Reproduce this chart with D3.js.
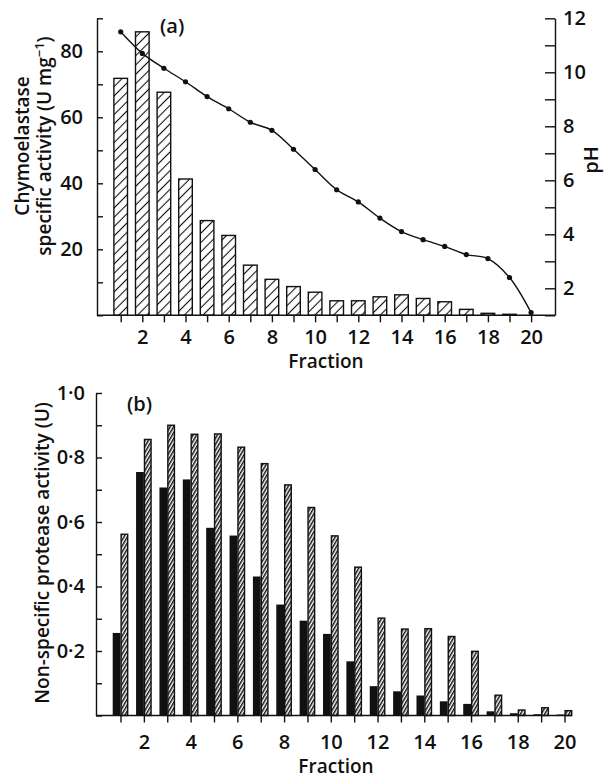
<!DOCTYPE html>
<html>

<head>
    <meta charset="utf-8">
    <title>Chymoelastase fractions</title>
    <script src="https://cdnjs.cloudflare.com/ajax/libs/d3/7.8.5/d3.min.js" type="text/JavaScript"></script>
    <style>
        body { margin: 0; background: #fff; }
        svg { display: block; font-family: "Open Sans", sans-serif; font-weight: 600; }
        text { fill: #111; }
    </style>
</head>

<body>
    <svg width="604" height="779"></svg>
    <script>
        var fractions = [1, 2, 3, 4, 5, 6, 7, 8, 9, 10, 11, 12, 13, 14, 15, 16, 17, 18, 19, 20]
        var fractionLabels = [2, 4, 6, 8, 10, 12, 14, 16, 18, 20]

        // panel (a)
        var chymoActivity = [71.8, 85.9, 67.6, 41.3, 28.7, 24.2, 15.2, 10.9, 8.7, 7.0,
            4.4, 4.4, 5.6, 6.2, 5.1, 4.1, 1.8, 0.6, 0.3, 0]
        var phValues = [11.5, 10.7, 10.15, 9.65, 9.1, 8.65, 8.15, 7.85, 7.15, 6.4,
            5.65, 5.2, 4.6, 4.1, 3.8, 3.55, 3.25, 3.1, 2.4, 1.1]
        var activityTicks = [0, 10, 20, 30, 40, 50, 60, 70, 80, 90]
        var activityLabels = [20, 40, 60, 80]
        var phTicks = [1, 2, 3, 4, 5, 6, 7, 8, 9, 10, 11, 12]
        var phLabels = [2, 4, 6, 8, 10, 12]

        // panel (b)
        var proteaseSolid = [0.256, 0.755, 0.707, 0.732, 0.582, 0.558, 0.431, 0.344, 0.294, 0.253,
            0.168, 0.091, 0.075, 0.062, 0.044, 0.036, 0.013, 0.007, 0.004, 0.003]
        var proteaseHatched = [0.562, 0.856, 0.900, 0.872, 0.873, 0.832, 0.781, 0.715, 0.645, 0.557,
            0.460, 0.302, 0.268, 0.269, 0.245, 0.199, 0.063, 0.017, 0.024, 0.015]
        var proteaseTicks = [0, 0.1, 0.2, 0.3, 0.4, 0.5, 0.6, 0.7, 0.8, 0.9, 1.0]
        var proteaseLabels = ["0.2", "0.4", "0.6", "0.8", "1.0"]

        var ink = "#111"
        var svg = d3.select("svg")
        var defs = svg.append("defs")

        var hatchA = defs.append("pattern")
            .attr("id", "hatchA")
            .attr("patternUnits", "userSpaceOnUse")
            .attr("width", 6.6).attr("height", 6.6)
            .attr("patternTransform", "rotate(45)")
        hatchA.append("rect").attr("width", 6.6).attr("height", 6.6).attr("fill", "#fff")
        hatchA.append("line")
            .attr("x1", 3.3).attr("y1", 0).attr("x2", 3.3).attr("y2", 6.6)
            .attr("stroke", ink).attr("stroke-width", 1.1)

        var hatchB = defs.append("pattern")
            .attr("id", "hatchB")
            .attr("patternUnits", "userSpaceOnUse")
            .attr("width", 3).attr("height", 3)
            .attr("patternTransform", "rotate(30)")
        hatchB.append("rect").attr("width", 3).attr("height", 3).attr("fill", "#fff")
        hatchB.append("rect").attr("width", 1.5).attr("height", 3).attr("fill", ink)

        function styleAxis(g) {
            g.attr("font-size", 20).attr("font-family", "'Open Sans', sans-serif").attr("font-weight", 600)
            g.selectAll("path, line").attr("stroke", ink).attr("stroke-width", 1.4)
            g.selectAll("text").attr("fill", ink)
        }

        // ---------- (a) ----------
        var xA = d3.scaleLinear().domain([1, 20]).range([120.7, 531.1])
        var yA = d3.scaleLinear().domain([0, 90]).range([315.3, 18.3])
        var yPh = d3.scaleLinear().domain([1, 12]).range([315.3, 18.3])

        var gA = svg.append("g")

        gA.selectAll("rect.bar")
            .data(fractions.filter((f, i) => chymoActivity[i] > 0))
            .enter().append("rect")
            .attr("class", "bar")
            .attr("x", f => xA(f) - 6.8)
            .attr("width", 13.6)
            .attr("y", f => yA(chymoActivity[f - 1]))
            .attr("height", f => yA(0) - yA(chymoActivity[f - 1]))
            .attr("fill", "url(#hatchA)")
            .attr("stroke", ink)
            .attr("stroke-width", 1.4)

        gA.append("g")
            .attr("transform", "translate(97,0)")
            .call(d3.axisLeft(yA).tickValues(activityTicks).tickSize(-6).tickSizeOuter(0).tickPadding(14)
                .tickFormat(d => activityLabels.includes(d) ? d : ""))
            .call(styleAxis)

        gA.append("g")
            .attr("transform", "translate(555,0)")
            .call(d3.axisRight(yPh).tickValues(phTicks).tickSize(-10).tickSizeOuter(0).tickPadding(8)
                .tickFormat(d => phLabels.includes(d) ? d : ""))
            .call(styleAxis)

        gA.append("g")
            .attr("transform", `translate(0,${yA(0)})`)
            .call(d3.axisBottom(xA).tickValues(fractions).tickSize(7).tickPadding(8)
                .tickFormat(d => fractionLabels.includes(d) ? d : ""))
            .call(styleAxis)
            .call(g => g.select(".domain").remove())

        gA.append("line")
            .attr("x1", 97).attr("x2", 555)
            .attr("y1", yA(0)).attr("y2", yA(0))
            .attr("stroke", ink).attr("stroke-width", 1.4)

        var phLine = d3.line()
            .x((d, i) => xA(fractions[i]))
            .y(d => yPh(d))
            .curve(d3.curveCatmullRom.alpha(0.5))

        gA.append("path")
            .datum(phValues)
            .attr("d", phLine)
            .attr("fill", "none")
            .attr("stroke", ink)
            .attr("stroke-width", 1.4)

        gA.selectAll("circle")
            .data(phValues)
            .enter().append("circle")
            .attr("cx", (d, i) => xA(fractions[i]))
            .attr("cy", d => yPh(d))
            .attr("r", 2.6)
            .attr("fill", ink)

        gA.append("text").attr("x", 160).attr("y", 33).attr("font-size", 20).text("(a)")

        var titleA = gA.append("text")
            .attr("transform", "translate(0,146) rotate(-90)")
            .attr("text-anchor", "middle")
            .attr("font-size", 19)
        titleA.append("tspan").attr("x", 0).attr("y", 29).text("Chymoelastase")
        var line2 = titleA.append("tspan").attr("x", 0).attr("y", 51)
        line2.append("tspan").text("specific activity (U mg")
        line2.append("tspan").attr("dy", -7).attr("font-size", 13).text("\u22121")
        line2.append("tspan").attr("dy", 7).text(")")

        gA.append("text")
            .attr("transform", "translate(598,160) rotate(-90)")
            .attr("text-anchor", "middle")
            .attr("font-size", 20)
            .text("pH")

        gA.append("text")
            .attr("x", 326).attr("y", 368)
            .attr("text-anchor", "middle")
            .attr("font-size", 19)
            .text("Fraction")

        // ---------- (b) ----------
        var xB = d3.scaleLinear().domain([1, 20]).range([120.5, 564.5])
        var yB = d3.scaleLinear().domain([0, 1]).range([715.5, 393])

        var gB = svg.append("g")

        gB.selectAll("rect.solid")
            .data(fractions)
            .enter().append("rect")
            .attr("class", "solid")
            .attr("x", f => xB(f) - 7.8)
            .attr("width", 7.8)
            .attr("y", f => yB(proteaseSolid[f - 1]))
            .attr("height", f => yB(0) - yB(proteaseSolid[f - 1]))
            .attr("fill", ink)

        gB.selectAll("rect.hatched")
            .data(fractions)
            .enter().append("rect")
            .attr("class", "hatched")
            .attr("x", f => xB(f) + 0.6)
            .attr("width", 6.6)
            .attr("y", f => yB(proteaseHatched[f - 1]))
            .attr("height", f => yB(0) - yB(proteaseHatched[f - 1]))
            .attr("fill", "url(#hatchB)")
            .attr("stroke", ink)
            .attr("stroke-width", 1.4)

        gB.append("g")
            .attr("transform", "translate(96,0)")
            .call(d3.axisLeft(yB).tickValues(proteaseTicks).tickSize(-6).tickSizeOuter(0).tickPadding(11)
                .tickFormat(d => {
                    var s = d3.format(".1f")(d)
                    return proteaseLabels.includes(s) ? s.replace(".", "\u00b7") : ""
                }))
            .call(styleAxis)

        gB.append("g")
            .attr("transform", `translate(0,${yB(0)})`)
            .call(d3.axisBottom(xB).tickValues(fractions).tickSize(7).tickPadding(12)
                .tickFormat(d => fractionLabels.includes(d) ? d : ""))
            .call(styleAxis)
            .call(g => g.select(".domain").remove())

        gB.append("line")
            .attr("x1", 96).attr("x2", 572)
            .attr("y1", yB(0)).attr("y2", yB(0))
            .attr("stroke", ink).attr("stroke-width", 1.4)

        gB.append("text").attr("x", 127).attr("y", 411).attr("font-size", 20).text("(b)")

        gB.append("text")
            .attr("transform", "translate(49,553) rotate(-90)")
            .attr("text-anchor", "middle")
            .attr("font-size", 19)
            .text("Non-specific protease activity (U)")

        gB.append("text")
            .attr("x", 336).attr("y", 773)
            .attr("text-anchor", "middle")
            .attr("font-size", 19)
            .text("Fraction")
    </script>
</body>

</html>
